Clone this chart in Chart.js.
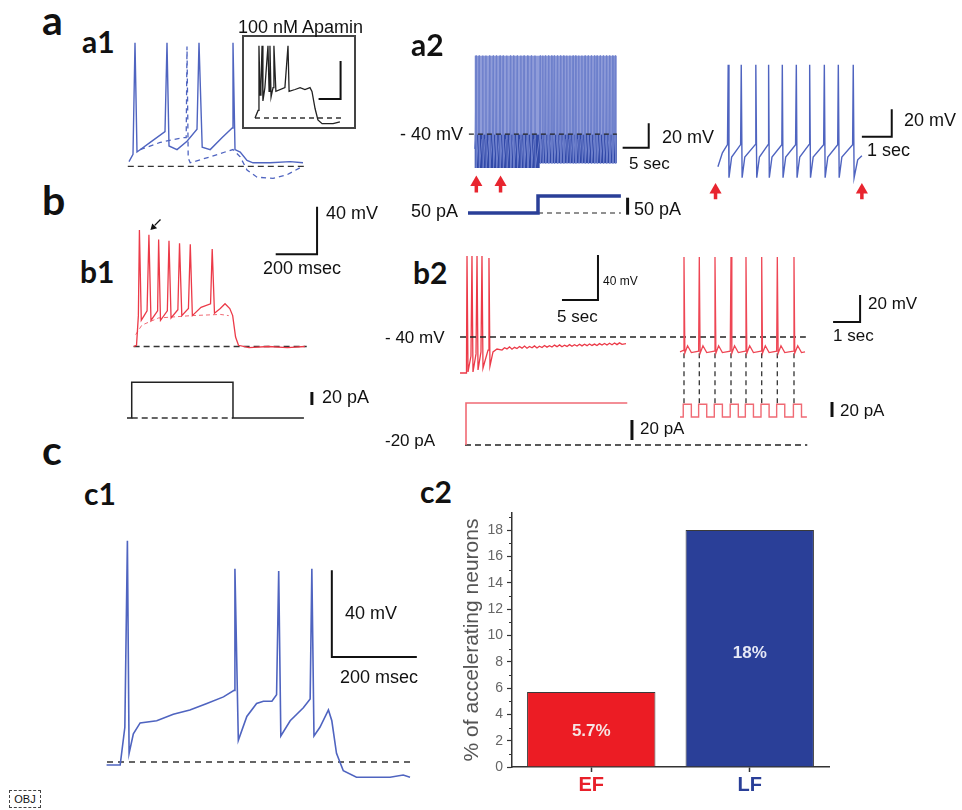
<!DOCTYPE html>
<html><head><meta charset="utf-8">
<script src="https://cdn.jsdelivr.net/npm/chart.js@4.4.1/dist/chart.umd.min.js"></script>
<style>
html,body{margin:0;padding:0;background:#fff;}
#stage{position:relative;width:962px;height:810px;overflow:hidden;background:#fff;font-family:'Liberation Sans',Arial,sans-serif;color:#111;}
.t{position:absolute;white-space:nowrap;line-height:1;transform:translateY(-50%);}
.p{position:absolute;white-space:nowrap;line-height:1;font-family:Lato,'Open Sans',sans-serif;font-weight:700;color:#111;}
canvas{position:absolute;}
#obj{position:absolute;left:9px;top:790px;width:30px;height:16px;border:1px dashed #444;font-size:11px;line-height:16px;text-align:center;}
</style></head><body><div id="stage"><div id="obj">OBJ</div></div>
<script>
// ======================= DATA =======================
// c2: bar chart
const c2Categories = ['EF', 'LF'];
const c2Values = [5.7, 18];
const c2ValueLabels = ['5.7%', '18%'];
const c2YTickValues = [0, 2, 4, 6, 8, 10, 12, 14, 16, 18];
const c2YTitle = '% of accelerating neurons';

// a1: main trace (ms, mV above rest)
const a1TimeMs = [0, 10, 15, 20, 53, 90, 95, 100, 120, 145, 170, 175, 183, 203, 233, 258, 260, 265, 278, 295, 310, 353, 403, 435];
const a1Vm     = [2, 8, 101, 10, 18, 27, 101, 15, 12, 19, 29, 101, 14, 12, 22, 30, 101, 12, 10, 3, 1, 1, 2, 1];
// a1: second (dashed) trace
const a1bTimeMs = [28, 78, 135, 143, 145, 148, 153, 203, 240, 260, 278, 295, 320, 360, 395, 428];
const a1bVm     = [12, 18, 22, 22, 98, 5, 1, 6, 10, 12, 6, -5, -11, -12, -9, -3];
// a1 inset: 100 nM apamin
const a1InsetTimeMs = [0, 14, 18, 23, 27, 32, 36, 45, 59, 64, 68, 73, 82, 86, 95, 136, 150, 155, 182, 205, 227, 250, 259, 273, 286, 305, 355, 386];
const a1InsetVm     = [0, 4, 38, 12, 17, 38, 9, 16, 38, 14, 38, 11, 16, 38, 14, 16, 38, 14, 15, 16, 15, 16, 14, 5, -1, -3, -3, -2];

// a2 left: long recording, spike times (s)
const a2SpikeTimesS = [0.3, 0.9, 1.6, 2.2, 2.9, 3.6, 4.2, 4.9, 5.5, 6.2, 6.9, 7.5, 8.2, 8.9, 9.5, 10.2, 10.9, 11.6,
  12.6, 13.1, 13.6, 14.2, 14.8, 15.3, 15.9, 16.5, 17.1, 17.7, 18.3, 18.9, 19.4, 20.0, 20.6, 21.2, 21.8, 22.4, 23.0, 23.5, 24.1, 24.7, 25.3, 25.9, 26.5, 27.0];
const a2SpikePeakMv = 23.7;
const a2ThresholdMv = -44;
const a2TroughMv = [-67.4, -63.7];      // before / after current step
const a2StepTimeS = 12.5;
const a2EndTimeS = 27.3;
const a2CurrentPa = [50, 100];           // holding current before / after step
const a2ArrowTimesS = [0.36, 5.0];
// a2 right: expanded stretch (s, mV)
const a2rTimeS = [0, 0.15, 0.32, 0.344, 0.37, 0.46, 0.76, 0.781, 0.81, 0.90, 1.25, 1.269, 1.30, 1.39, 1.68, 1.697, 1.72, 1.81, 2.14, 2.156, 2.18, 2.27, 2.60, 2.625, 2.65, 2.74, 3.05, 3.072, 3.10, 3.19, 3.54, 3.563, 3.59, 3.68, 4.01, 4.031, 4.06, 4.15, 4.51, 4.531, 4.56, 4.68, 4.82];
const a2rVm    = [-63, -53, -47, 11, -71, -56, -47, 11, -71, -56, -47, 11, -71, -56, -47, 11, -71, -56, -47, 11, -71, -56, -47, 11, -71, -56, -47, 11, -71, -56, -47, 11, -71, -56, -47, 11, -71, -56, -47, 11, -71, -58, -55];
const a2rArrowTimesS = [-0.08, 4.82];

// b1: early-firing response (ms, mV above rest)
const b1TimeMs = [0, 14, 23, 28, 37, 51, 65, 74, 84, 116, 121, 130, 163, 171, 181, 214, 222, 233, 265, 274, 284, 326, 372, 380, 391, 419, 442, 465, 479, 493, 507, 558, 651, 744, 828];
const b1Vm     = [0, 1, 26, 98, 22, 26, 30, 94, 22, 30, 90, 22, 30, 89, 24, 31, 87, 26, 32, 86, 26, 33, 36, 82, 28, 32, 36, 32, 26, 8, 1, -1, 0, -1, 0];
const b1SubTimeMs = [10, 40, 120, 280, 420, 460];
const b1SubVm     = [10, 18, 24, 26, 27, 26];
const b1CurrentTimeMs = [-14, 8, 8, 479, 479, 809];
const b1CurrentPa     = [0, 0, 55, 55, 0, 0];

// b2 left: long step (s, mV)
const b2TimeS = [-0.83, 0, 0.07, 0.14, 0.28, 0.69, 0.83, 0.97, 1.39, 1.53, 1.67, 2.08, 2.22, 2.36, 3.06, 3.19, 3.33, 3.75, 4.31,
  5.0, 5.35, 5.69, 6.04, 6.39, 6.74, 7.08, 7.43, 7.78, 8.13, 8.47, 8.82, 9.17, 9.51, 9.86, 10.2, 10.56, 10.9, 11.25, 11.6, 11.94, 12.29, 12.64, 13.0,
  13.33, 13.68, 14.03, 14.38, 14.72, 15.07, 15.42, 15.77, 16.11, 16.46, 16.81, 17.15, 17.5, 17.85, 18.19, 18.54, 18.89, 19.24, 19.58, 19.93, 20.28, 20.63, 20.97, 21.32, 21.67, 22.22];
const b2Vm = [-72, -72, -60.4, 32, -71.1, -56.9, 32, -71.1, -55, 32, -69.3, -53.3, 32, -67.6, -51.6, 30.2, -65.8, -53.3, -50.7,
  -51.6, -49.5, -50.6, -48.8, -50.9, -49.2, -50.2, -48.5, -49.9, -48.1, -50.0, -48.4, -49.6, -47.9, -49.8, -48.2, -49.3, -47.6, -49.0, -47.8, -48.9, -47.2, -48.6, -47.0,
  -48.7, -47.3, -48.4, -46.8, -48.2, -46.9, -48.0, -46.5, -47.9, -46.4, -47.7, -46.2, -47.5, -46.3, -47.6, -45.9, -47.2, -45.8, -47.1, -45.6, -46.9, -45.4, -46.8, -45.2, -46.5, -45.8];
const b2CurrentTimeS = [0, 0, 22.4];
const b2CurrentPa    = [-20, 22, 22];
// b2 right: pulse train (s, mV)
const b2rSpikeTimesS = [0.148, 0.715, 1.296, 1.889, 2.444, 3.026, 3.604, 4.222];
const b2rTimeS = [0, 0.12, 0.148, 0.18, 0.28, 0.42, 0.69, 0.715, 0.745, 0.85, 0.99, 1.27, 1.296, 1.33, 1.43, 1.57, 1.86, 1.889, 1.92, 2.02, 2.16, 2.42, 2.444, 2.475, 2.58, 2.72, 3.0, 3.026, 3.055, 3.16, 3.3, 3.58, 3.604, 3.635, 3.74, 3.88, 4.2, 4.222, 4.25, 4.36, 4.5, 4.63];
const b2rVm    = [-51, -50, 19.3, -52, -46.5, -51.5, -50.5, 19.3, -52, -46.5, -51.5, -50.5, 19.3, -52, -46.5, -51.5, -50.5, 19.3, -52, -46.5, -51.5, -50.5, 19.3, -52, -46.5, -51.5, -50.5, 19.3, -52, -46.5, -51.5, -50.5, 19.3, -52, -46.5, -51.5, -50.5, 19.3, -52, -46.5, -51.5, -51];
const b2rPulseOnsetS = [0.12, 0.69, 1.27, 1.86, 2.42, 3.0, 3.58, 4.2];
const b2rPulseWidthS = 0.3;
const b2rPulsePa = 17;
const b2rEndS = 4.7;

// c1: late-firing response (ms, mV above rest)
const c1TimeMs = [-1, 31, 42, 48, 52, 62, 78, 117, 156, 195, 235, 274, 299, 301, 309, 329, 352, 368, 388, 399, 404, 409, 431, 462, 478, 482, 487, 501, 521, 529, 540, 556, 587, 626, 666, 697, 713];
const c1Vm     = [-1.4, -1.4, 16, 102, 4, 13, 18, 19, 22, 24, 27, 30, 33, 89, 10, 21, 27, 28, 28, 31, 88, 12, 19, 25, 29, 89, 12, 16, 24, 19, 4, -4, -7, -7, -7, -6, -7];

// ======================= HELPERS =======================
Chart.defaults.font.family = "'Liberation Sans', Arial, sans-serif";
const stage = document.getElementById('stage');
const BLUE = '#4f64c0', RED = '#ec3a48', RED2 = '#f06a74', INK = '#111', ARROW = '#e8252f';

function mk(box) {
  const c = document.createElement('canvas');
  c.width = box.w; c.height = box.h;
  c.style.left = box.l + 'px'; c.style.top = box.t + 'px';
  c.style.width = box.w + 'px'; c.style.height = box.h + 'px';
  stage.appendChild(c); return c;
}
function rng(box, cal) {
  return {
    x: [(box.l - cal.x0) / cal.px, (box.l + box.w - cal.x0) / cal.px],
    y: [cal.v0 + (cal.y0 - (box.t + box.h)) / cal.py, cal.v0 + (cal.y0 - box.t) / cal.py]
  };
}
function pts(xs, ys) { return xs.map((x, i) => ({ x: x, y: ys[i] })); }
function ds(data, color, width, dash, extra) {
  return Object.assign({ data: data, borderColor: color, backgroundColor: color, borderWidth: width,
    borderDash: dash || [], pointRadius: 0, fill: false, clip: false, tension: 0 }, extra || {});
}
function trace(box, cal, datasets) {
  const r = rng(box, cal);
  return new Chart(mk(box), {
    type: 'line', data: { datasets: datasets },
    options: { responsive: false, animation: false, events: [], devicePixelRatio: 1, layout: { padding: 0 },
      plugins: { legend: { display: false }, tooltip: { enabled: false } },
      scales: { x: { type: 'linear', display: false, min: r.x[0], max: r.x[1] },
                y: { type: 'linear', display: false, min: r.y[0], max: r.y[1] } } }
  });
}
// scale bar with corner at (tx, vy): horizontal of length dt (dt<0 = to the left), vertical of dv upwards
function scaleBar(tx, vy, dt, dv, w) {
  return ds([{ x: tx + dt, y: vy }, { x: tx, y: vy }, { x: tx, y: vy + dv }], INK, w || 2);
}
function vBar(tx, v1, v2) { return ds([{ x: tx, y: v1 }, { x: tx, y: v2 }], INK, 3); }
function arrows(times, headV, stemTop, stemBot) {
  const heads = ds(times.map(t => ({ x: t, y: headV })), ARROW, 0, [], { showLine: false, pointRadius: 7, pointStyle: 'triangle', pointBackgroundColor: ARROW, pointBorderColor: ARROW, pointBorderWidth: 0 });
  const stem = [];
  times.forEach(t => { stem.push({ x: t, y: stemTop }, { x: t, y: stemBot }, { x: t, y: null }); });
  return [heads, ds(stem, ARROW, 3.5)];
}
function T(s, l, cy, size, extra) {
  const d = document.createElement('div'); d.className = 't'; d.textContent = s;
  d.style.left = l + 'px'; d.style.top = cy + 'px'; d.style.fontSize = size + 'px';
  if (extra) Object.assign(d.style, extra); stage.appendChild(d);
}
function P(s, l, base, size) {
  const d = document.createElement('div'); d.className = 'p'; d.textContent = s;
  d.style.left = l + 'px'; d.style.top = (base - 0.887 * size) + 'px'; d.style.fontSize = size + 'px';
  stage.appendChild(d);
}

// ======================= PANEL a1 =======================
trace({ l: 120, t: 38, w: 190, h: 145 }, { x0: 129, px: 0.4, y0: 164, v0: 0, py: 1.2 }, [
  ds(pts(a1TimeMs, a1Vm), BLUE, 1.4),
  ds(pts(a1bTimeMs, a1bVm), BLUE, 1.3, [5, 4]),
  ds([{ x: -3, y: -2 }, { x: 443, y: -2 }], '#333', 1.4, [6, 4])
]);
// inset box
(function () { const b = document.createElement('div');
  b.style.cssText = 'position:absolute;left:242px;top:35px;width:110px;height:90px;border:2px solid #444;';
  stage.appendChild(b); })();
trace({ l: 246, t: 40, w: 105, h: 86 }, { x0: 255, px: 0.22, y0: 118, v0: 0, py: 1.9 }, [
  ds(pts(a1InsetTimeMs, a1InsetVm), '#222', 1.3),
  ds([{ x: 0, y: 0 }, { x: 395, y: 0 }], '#333', 1.3, [5, 4]),
  scaleBar(389, 10, -100, 20, 2)
]);

// ======================= PANEL a2 =======================
(function () {
  const poly = [{ x: 0, y: -52 }];
  a2SpikeTimesS.forEach(t => {
    const tr = t < a2StepTimeS ? a2TroughMv[0] : a2TroughMv[1];
    poly.push({ x: t - 0.15, y: a2ThresholdMv }, { x: t, y: a2SpikePeakMv }, { x: t + 0.05, y: tr });
  });
  const peak = Math.max(a2SpikePeakMv);
  const ar = arrows(a2ArrowTimesS, -79.3, -80.7, -87.4);
  trace({ l: 460, t: 45, w: 205, h: 160 }, { x0: 468, px: 5.6, y0: 135, v0: -40, py: 1.35 }, [
    ds([{ x: -1.07, y: -40 }, { x: a2EndTimeS, y: -40 }], '#222', 1.3, [5, 4]),
    scaleBar(33.4, -51.1, -5, 20, 2),
    ar[0], ar[1],
    ds(poly, '#6e80cc', 1),
    ds([{ x: 0, y: peak }, { x: a2EndTimeS, y: peak }], 'rgba(0,0,0,0)', 0, [], { fill: 6, backgroundColor: '#8f9cd9' }),
    ds([{ x: 0, y: -40 }, { x: a2EndTimeS, y: -40 }], 'rgba(0,0,0,0)', 0, [], { fill: 7, backgroundColor: '#3149a8' }),
    ds([{ x: 0, y: a2TroughMv[0] }, { x: a2StepTimeS, y: a2TroughMv[0] }, { x: a2StepTimeS, y: a2TroughMv[1] }, { x: a2EndTimeS, y: a2TroughMv[1] }], 'rgba(0,0,0,0)', 0)
  ]);
  trace({ l: 460, t: 185, w: 180, h: 35 }, { x0: 468, px: 5.6, y0: 213, v0: 50, py: 0.34 }, [
    ds([{ x: 0, y: a2CurrentPa[0] }, { x: a2StepTimeS, y: a2CurrentPa[0] }, { x: a2StepTimeS, y: a2CurrentPa[1] }, { x: a2EndTimeS, y: a2CurrentPa[1] }], '#2a3f98', 3.5),
    ds([{ x: a2StepTimeS, y: a2CurrentPa[0] }, { x: a2EndTimeS, y: a2CurrentPa[0] }], '#222', 1.2, [5, 4]),
    vBar(28.5, 45, 95)
  ]);
  const ar2 = arrows(a2rArrowTimesS, -80, -81.3, -86.7);
  trace({ l: 700, t: 50, w: 210, h: 170 }, { x0: 711.7, px: 32, y0: 135, v0: -40, py: 1.5 }, [
    ds(pts(a2rTimeS, a2rVm), BLUE, 1.4),
    scaleBar(5.82, -41.3, -1, 20, 2),
    ar2[0], ar2[1]
  ]);
})();

// ======================= PANEL b1 =======================
trace({ l: 120, t: 200, w: 210, h: 160 }, { x0: 130, px: 0.215, y0: 350, v0: 0, py: 1.25 }, [
  ds(pts(b1TimeMs, b1Vm), RED, 1.3),
  ds(pts(b1SubTimeMs, b1SubVm), RED2, 1, [4, 3]),
  ds([{ x: 0, y: 0 }, { x: 837, y: 0 }], '#333', 1.4, [6, 4]),
  scaleBar(887, 77.6, -200, 40, 2),
  ds([{ x: 130, y: 107 }, { x: 102, y: 102 }], INK, 1.3),
  ds([{ x: 95, y: 100.4 }], INK, 0, [], { showLine: false, pointRadius: 4, pointStyle: 'triangle', rotation: 225, pointBackgroundColor: INK, pointBorderWidth: 0 })
]);
trace({ l: 120, t: 372, w: 210, h: 55 }, { x0: 130, px: 0.215, y0: 418, v0: 0, py: 0.65 }, [
  ds(pts(b1CurrentTimeMs, b1CurrentPa), '#222', 1.5),
  ds([{ x: 8, y: 0 }, { x: 479, y: 0 }], '#333', 1.3, [6, 4]),
  vBar(846, 20, 40)
]);

// ======================= PANEL b2 =======================
(function () {
  trace({ l: 455, t: 250, w: 360, h: 130 }, { x0: 466, px: 7.2, y0: 337, v0: -40, py: 1.125 }, [
    ds([{ x: -0.83, y: -40 }, { x: 47.2, y: -40 }], '#222', 1.3, [6, 4]),
    ds(pts(b2TimeS, b2Vm), RED, 1.3),
    scaleBar(18.33, -7.1, -5, 40, 2)
  ]);
  trace({ l: 455, t: 395, w: 360, h: 55 }, { x0: 466, px: 7.2, y0: 445, v0: -20, py: 1.0 }, [
    ds(pts(b2CurrentTimeS, b2CurrentPa), RED2, 1.6),
    ds([{ x: -0.14, y: -20 }, { x: 47.4, y: -20 }], '#222', 1.3, [6, 4]),
    vBar(23.05, -15, 5)
  ]);
  const vdash = [];
  b2rSpikeTimesS.forEach(t => { vdash.push({ x: t, y: -52.1 }, { x: t, y: -89.1 }, { x: t, y: null }); });
  trace({ l: 675, t: 250, w: 195, h: 175 }, { x0: 680, px: 27, y0: 337, v0: -40, py: 1.35 }, [
    ds(pts(b2rTimeS, b2rVm), '#ee4654', 1.3),
    ds(vdash, '#333', 1.3, [5, 4]),
    scaleBar(6.67, -28.9, -1, 20, 2)
  ]);
  const sq = [{ x: 0, y: 0 }];
  b2rPulseOnsetS.forEach(t => { sq.push({ x: t, y: 0 }, { x: t, y: b2rPulsePa }, { x: t + b2rPulseWidthS, y: b2rPulsePa }, { x: t + b2rPulseWidthS, y: 0 }); });
  sq.push({ x: b2rEndS, y: 0 });
  trace({ l: 675, t: 395, w: 165, h: 30 }, { x0: 680, px: 27, y0: 417, v0: 0, py: 0.75 }, [
    ds(sq, RED2, 1.4),
    vBar(5.63, 0, 20)
  ]);
})();

// ======================= PANEL c1 =======================
trace({ l: 100, t: 530, w: 325, h: 255 }, { x0: 107, px: 0.425, y0: 762, v0: 0, py: 2.17 }, [
  ds(pts(c1TimeMs, c1Vm), BLUE, 1.6),
  ds([{ x: 0, y: 0 }, { x: 720, y: 0 }], '#333', 1.5, [6, 5]),
  scaleBar(529, 48.4, 200, 40, 2)
]);

// ======================= PANEL c2 (bar chart) =======================
(function () {
  const c = mk({ l: 458, t: 500, w: 377, h: 310 });
  const valueLabels = { id: 'valueLabels', afterDatasetsDraw(chart) {
    const ctx = chart.ctx, meta = chart.getDatasetMeta(0), ys = chart.scales.y;
    ctx.save(); ctx.font = 'bold 17px "Liberation Sans", Arial, sans-serif';
    ctx.textAlign = 'center'; ctx.textBaseline = 'middle';
    meta.data.forEach((el, i) => {
      ctx.fillStyle = i === 0 ? '#f6e4e4' : '#e6e9f6';
      ctx.fillText(c2ValueLabels[i], el.x, ys.getPixelForValue(c2Values[i] * 0.48));
    });
    ctx.restore(); } };
  const minorTicks = { id: 'minorTicks', afterDraw(chart) {
    const ys = chart.scales.y, ctx = chart.ctx;
    ctx.save(); ctx.strokeStyle = '#333'; ctx.lineWidth = 1;
    for (let v = Math.ceil(ys.min); v <= ys.max; v++) {
      if (c2YTickValues.includes(v)) continue;
      const y = Math.round(ys.getPixelForValue(v)) + 0.5;
      ctx.beginPath(); ctx.moveTo(ys.right - 3, y); ctx.lineTo(ys.right, y); ctx.stroke();
    }
    ctx.restore(); } };
  new Chart(c, {
    type: 'bar',
    data: { labels: c2Categories, datasets: [{ data: c2Values, backgroundColor: ['#ec1c24', '#2a3f98'],
      borderColor: '#3a3a3a', borderWidth: 1, barPercentage: 0.81, categoryPercentage: 1 }] },
    options: { responsive: false, animation: false, events: [], devicePixelRatio: 1,
      layout: { padding: { top: 13, right: 6, bottom: 8, left: 0 } },
      plugins: { legend: { display: false }, tooltip: { enabled: false } },
      scales: {
        x: { grid: { offset: false, drawOnChartArea: false, drawTicks: true, tickLength: 5, tickColor: '#333', tickWidth: 1.5 },
             border: { color: '#333', width: 1.5 },
             ticks: { color: ctx => ctx.index === 0 ? '#e8202a' : '#2a3f98', font: { size: 20, weight: 'bold' }, padding: 1 },
             afterFit(s) { s.height = 35; } },
        y: { min: 0, max: 19.3,
             ticks: { stepSize: 1, includeBounds: false, autoSkip: false, color: '#666', font: { size: 14 }, padding: 4,
                      callback: v => c2YTickValues.includes(v) ? String(v) : '' },
             grid: { drawOnChartArea: false, drawTicks: true, tickLength: 5, tickWidth: 1.2,
                     tickColor: ctx => (ctx.tick && c2YTickValues.includes(ctx.tick.value)) ? '#333' : 'rgba(0,0,0,0)' },
             border: { color: '#333', width: 1.5 },
             title: { display: true, text: c2YTitle, color: '#555', font: { size: 21 }, padding: { top: 2, bottom: 0 } },
             afterFit(s) { s.width = 54; } }
      } },
    plugins: [valueLabels, minorTicks]
  });
})();

// ======================= TEXT =======================
P('a', 42, 35, 41); P('a1', 82, 53, 30); P('a2', 411, 56, 30);
P('b', 42, 215, 41); P('b1', 80, 283, 30); P('b2', 413, 284, 30);
P('c', 42, 465, 41); P('c1', 84, 505, 30); P('c2', 420, 503, 30);

T('100 nM Apamin', 238, 27, 18);
T('- 40 mV', 400, 134, 18);
T('20 mV', 662, 137, 18);
T('5 sec', 629, 163, 17);
T('50 pA', 411, 211, 18);
T('50 pA', 634, 209, 18);
T('20 mV', 904, 120, 18);
T('1 sec', 867, 150, 18);

T('40 mV', 326, 213, 18);
T('200 msec', 263, 268, 18);
T('20 pA', 322, 397, 18);

T('40 mV', 603, 281, 12);
T('5 sec', 557, 316, 17);
T('- 40 mV', 385, 337, 17);
T('-20 pA', 385, 440, 17);
T('20 pA', 640, 428, 17);
T('20 mV', 868, 303, 17);
T('1 sec', 833, 335, 17);
T('20 pA', 840, 410, 17);

T('40 mV', 345, 613, 18);
T('200 msec', 340, 677, 18);
</script></body></html>
